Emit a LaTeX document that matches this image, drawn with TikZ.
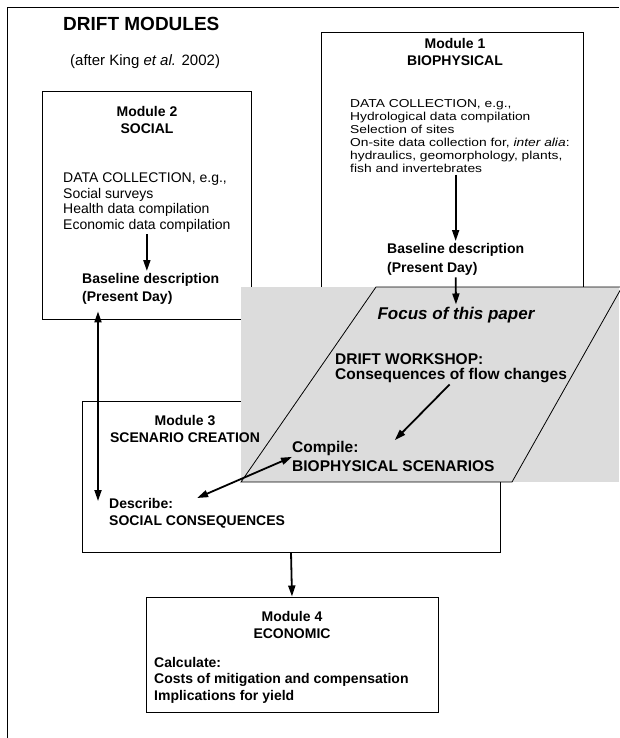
\documentclass[tikz,border=0pt]{standalone}
\usepackage{fontspec}
\setmainfont{Liberation Sans}
\newfontfamily\widebody[FakeStretch=1.2]{Liberation Sans}
\usetikzlibrary{arrows.meta}
\definecolor{panelgray}{RGB}{220,220,220}

\begin{document}
\begin{tikzpicture}[x=1pt,y=-1pt,
	box/.style={draw,line width=1pt,inner sep=0pt},
	head/.style={inner sep=0pt,align=center,font=\bfseries\fontsize{14}{17}\selectfont},
	txt/.style={inner sep=0pt,align=left,anchor=north west},
	arr/.style={line width=1.8pt,shorten >=2pt,shorten <=2pt,-{Triangle[length=11pt,width=7pt]}},
	dblarr/.style={line width=1.8pt,{Triangle[length=11pt,width=7pt]}-{Triangle[length=11pt,width=7pt]}}]
		\useasboundingbox (0,0) rectangle (619,738);
		\draw[line width=0.8pt] (7,738) -- (7,7) -- (619,7);
		\node[anchor=base west,inner sep=0pt,font=\bfseries\fontsize{19}{22}\selectfont] (title) at (63,31) {DRIFT MODULES};
		\node[anchor=base west,inner sep=0pt,font=\fontsize{15}{18}\selectfont] (after) at (70,66) {(after King \textit{et al.} 2002)};
		\node[box,minimum width=262pt,minimum height=367pt] (m1) at (452,216.5) {};
		\node[box,minimum width=209pt,minimum height=227pt] (m2) at (146.5,205.5) {};
		\node[box,minimum width=418pt,minimum height=151pt] (m3) at (291,476.5) {};
		\node[box,minimum width=292pt,minimum height=115pt] (m4) at (292,654.5) {};
		\fill[panelgray] (241,287) rectangle (619,482);
		\draw[line width=0.8pt] (376,287) -- (622,287) -- (512,482) -- (241,482) -- cycle;
		\node[head] (m1head) at (455,51.5) {Module 1\\BIOPHYSICAL};
		\node[txt,font=\widebody\fontsize{11.5}{13}\selectfont] (m1data) at (350,99) {DATA COLLECTION, e.g.,\\Hydrological data compilation\\Selection of sites\\On-site data collection for, \textit{inter alia}:\\hydraulics, geomorphology, plants,\\fish and invertebrates};
		\node[txt,font=\bfseries\fontsize{14}{19}\selectfont] (m1base) at (387,243) {Baseline description\\(Present Day)};
		\node[head] (m2head) at (147,119.5) {Module 2\\SOCIAL};
		\node[txt,font=\fontsize{14}{15.4}\selectfont] (m2data) at (63,173) {DATA COLLECTION, e.g.,\\Social surveys\\Health data compilation\\Economic data compilation};
		\node[txt,font=\bfseries\fontsize{14}{18}\selectfont] (m2base) at (82,273) {Baseline description\\(Present Day)};
		\node[anchor=base,inner sep=0pt,font=\bfseries\itshape\fontsize{17}{20}\selectfont] (focus) at (456,319) {Focus of this paper};
		\node[txt,font=\bfseries\fontsize{15.5}{15.5}\selectfont] (wshop) at (335,353) {DRIFT WORKSHOP:\\Consequences of flow changes};
		\node[txt,font=\bfseries\fontsize{15.5}{19}\selectfont] (compile) at (292,441.5) {Compile:\\BIOPHYSICAL SCENARIOS};
		\node[head] (m3head) at (185,428.5) {Module 3\\SCENARIO CREATION};
		\node[txt,font=\bfseries\fontsize{14}{17}\selectfont] (describe) at (109,498) {Describe:\\SOCIAL CONSEQUENCES};
		\node[head] (m4head) at (292,624.5) {Module 4\\ECONOMIC};
		\node[txt,font=\bfseries\fontsize{14}{16.5}\selectfont] (m4calc) at (154,657) {Calculate:\\Costs of mitigation and compensation\\Implications for yield};
		\draw[arr] (m2data.south) -- (m2data.south |- m2base.north);
		\draw[arr] (m1data.south -| m1base.north) -- (m1base.north);
		\draw[arr] (m1base.south) -- (focus.north);
		\draw[arr] (wshop.south) -- (compile.north);
		\draw[dblarr] ([shift={(16,7)}]m2base.south west) -- ([shift={(-11,3)}]describe.north west);
		\draw[dblarr] (describe.north) -- (compile.west);
		\draw[arr,shorten >=0pt,shorten <=0pt] (m3.south) -- (m4.north);
\end{tikzpicture}
\end{document}
